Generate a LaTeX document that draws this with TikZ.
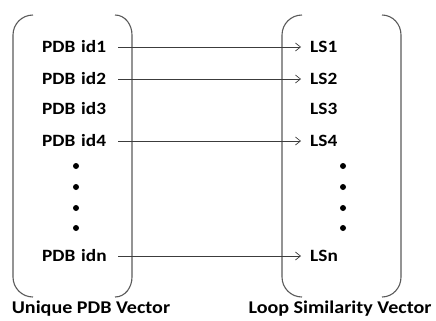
\documentclass[tikz,border=0pt]{standalone}
\usepackage{fontspec}
\setmainfont{Carlito}[FakeStretch=1.12]
\usepackage{tikz}
\usetikzlibrary{arrows.meta}

\definecolor{bracketgray}{HTML}{5A5A5A}
\definecolor{arrowgray}{HTML}{3C3C3C}

\tikzset{
    entry/.style={font=\bfseries\fontsize{17.3}{17.3}\selectfont, inner sep=0pt, text height=11bp, text depth=0pt, anchor=west},
    pdbentry/.style={entry, text width=76bp, align=left},
    lsentry/.style={entry, inner xsep=9bp},
    vlabel/.style={font=\bfseries\fontsize{18}{18}\selectfont, inner sep=0pt},
    bracket/.style={draw=bracketgray, line width=1.1bp},
    link/.style={draw=arrowgray, line width=0.7bp, -{Straight Barb[length=5bp,width=8bp]}}
}

\begin{document}
\begin{tikzpicture}[x=1bp, y=-1bp]
    \useasboundingbox (0,0) rectangle (436,320);

    % Draw the brackets
    \draw[bracket] (33,15) to[out=180,in=90] (13,35) -- (13,277) to[out=270,in=180] (33,297);
    \draw[bracket] (115,15) to[out=0,in=90] (132,35) -- (132,277) to[out=270,in=0] (115,297);
    \draw[bracket] (302,15) to[out=180,in=90] (282,35) -- (282,277) to[out=270,in=180] (302,297);
    \draw[bracket] (382,15) to[out=0,in=90] (401,35) -- (401,277) to[out=270,in=0] (382,297);

    % Draw the entries
    \node[pdbentry] (p1) at (42,47) {PDB id1};
    \node[pdbentry] (p2) at (42,79) {PDB id2};
    \node[pdbentry] (p3) at (42,109) {PDB id3};
    \node[pdbentry] (p4) at (42,141) {PDB id4};
    \node[pdbentry] (pn) at (42,256) {PDB idn};

    \node[lsentry] (l1) at (301,47) {LS1};
    \node[lsentry] (l2) at (301,79) {LS2};
    \node[lsentry] (l3) at (301,109) {LS3};
    \node[lsentry] (l4) at (301,141) {LS4};
    \node[lsentry] (ln) at (301,256) {LSn};

    % Draw the dots
    \foreach \y in {166,187,208,228} {
        \fill (76,\y) circle(3);
        \fill (343,\y) circle(3);
    }

    % Draw the links
    \draw[link] (p1.east) -- (l1.west);
    \draw[link] (p2.east) -- (l2.west);
    \draw[link] (p4.east) -- (l4.west);
    \draw[link] (pn.east) -- (ln.west);

    % Draw the captions
    \node[vlabel] (uvec) at (91,309) {Unique PDB Vector};
    \node[vlabel] (lvec) at (340,309) {Loop Similarity Vector};
\end{tikzpicture}
\end{document}
